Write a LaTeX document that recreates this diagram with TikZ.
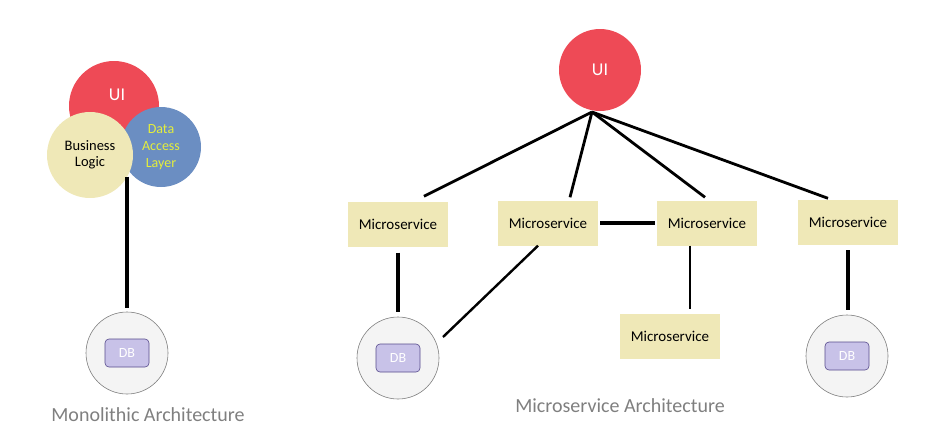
\documentclass[tikz,border=0pt]{standalone}
\usepackage{fontspec}
\setmainfont{Carlito}
\usepackage{tikz}
\usetikzlibrary{positioning,calc}
\definecolor{uired}{HTML}{EE4A56}
\definecolor{svcsand}{HTML}{EFE8B7}
\definecolor{dalblue}{HTML}{6B8EC2}
\definecolor{dalyellow}{HTML}{E4EE3C}
\definecolor{dblilac}{HTML}{C8C2E8}
\definecolor{dbplum}{HTML}{574B8C}
\definecolor{dbmist}{HTML}{F4F4F4}
\definecolor{capgrey}{HTML}{7F7F7F}

\tikzset{
  svcbox/.style={fill=svcsand,minimum width=100pt,minimum height=45pt,inner sep=0pt,
                 font=\fontsize{15}{17}\selectfont},
  dbring/.style={circle,draw=capgrey,fill=dbmist,line width=0.6pt,minimum size=82pt},
  dbtag/.style={draw=dbplum,fill=dblilac,rounded corners=4pt,line width=0.6pt,
                minimum width=44pt,minimum height=28pt,inner sep=0pt,text=white,
                font=\fontsize{14}{14}\selectfont},
  uiball/.style={circle,fill=uired,inner sep=0pt,text=white,font=\fontsize{18}{18}\selectfont},
  link/.style={line width=2.8pt},
  heavy/.style={line width=4pt},
  caption/.style={text=capgrey,font=\fontsize{20}{20}\selectfont},
}

\begin{document}
\begin{tikzpicture}[x=1pt,y=-1pt]
\useasboundingbox (0,0) rectangle (939,437);

% monolithic side
\node[uiball,minimum size=90pt] (mui) at (114,106) {};
\node[text=white,font=\fontsize{18}{18}\selectfont] (muitext) at (117,95) {UI};
\node[circle,fill=dalblue,minimum size=80pt,inner sep=0pt,align=center,text=dalyellow,
      font=\fontsize{14}{17}\selectfont] (mdal) at (161,147) {Data\\Access\\Layer};
\node[circle,fill=svcsand,minimum size=86pt,inner sep=0pt,align=center,
      font=\fontsize{14.5}{16.5}\selectfont] (mbl) at (90,155) {Business\\Logic};
\node[dbring] (mdb) at (127,353) {};
\node[dbtag] (mdbtag) at (mdb) {DB};
\draw[heavy,shorten >=4pt] (mdb.north |- mbl.-30) -- (mdb.north);
\node[caption] (mcap) at (148,415) {Monolithic Architecture};

% microservice side
\node[uiball,minimum size=82pt] (ui) at (600,70) {UI};
\coordinate (hub) at (592,112);
\node[svcbox] (ms1) at (398,224) {Microservice};
\node[svcbox] (ms2) at (548,223) {Microservice};
\node[svcbox] (ms3) at (707,223) {Microservice};
\node[svcbox] (ms4) at (848,222) {Microservice};
\node[svcbox] (ms5) at (670,336) {Microservice};
\node[dbring] (db1) at (398,358) {};
\node[dbtag] (db1tag) at (db1) {DB};
\node[dbring] (db2) at (847,356) {};
\node[dbtag] (db2tag) at (db2) {DB};

\draw[link] (hub) -- ($(ms1.north)+(26,-5)$);
\draw[link] (hub) -- ($(ms2.north)+(22,-3)$);
\draw[link] (hub) -- ($(ms3.north)+(-2,-3)$);
\draw[link] (hub) -- ($(ms4.north)+(-20,-1)$);
\draw[link,line width=3.4pt,shorten <=2pt,shorten >=2pt] (ms2.east) -- (ms3.west);
\draw[heavy,shorten <=6pt,shorten >=5pt] (ms1.south) -- (db1.north);
\draw[heavy,shorten <=5.5pt,shorten >=5pt] (ms4.south) -- (ms4.south |- db2.north);
\draw[line width=2.4pt,shorten >=4pt] ($(ms3.south)+(-17,0)$) -- ($(ms5.north)+(20,0)$);
\draw[line width=2.4pt] ($(ms2.south)+(-10,0)$) -- ($(db1.center)+(45,-21)$);

\node[caption] (mscap) at (620,406) {Microservice Architecture};
\end{tikzpicture}
\end{document}
